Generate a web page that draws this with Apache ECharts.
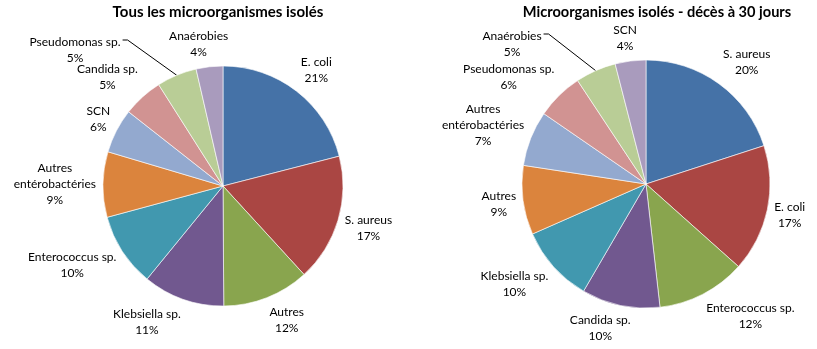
<!DOCTYPE html>
<html>
<head>
<meta charset="utf-8">
<script src="https://cdn.jsdelivr.net/npm/echarts@6/dist/echarts.min.js"></script>
<style>
html,body{margin:0;padding:0;background:#fff;}
#chart{width:817px;height:349px;}
</style>
</head>
<body>
<div id="chart"></div>
<script>
// ---- data ----
const leftTitle = 'Tous les microorganismes isolés';
const leftNames = ['E. coli', 'S. aureus', 'Autres', 'Klebsiella sp.', 'Enterococcus sp.', 'Autres entérobactéries', 'SCN', 'Candida sp.', 'Pseudomonas sp.', 'Anaérobies'];
const leftValues = [21.0, 17.2, 11.7, 11.0, 9.9, 8.8, 6.0, 5.4, 5.4, 3.6];

const rightTitle = 'Microorganismes isolés - décès à 30 jours';
const rightNames = ['S. aureus', 'E. coli', 'Enterococcus sp.', 'Candida sp.', 'Klebsiella sp.', 'Autres', 'Autres entérobactéries', 'Pseudomonas sp.', 'Anaérobies', 'SCN'];
const rightValues = [20.0, 16.6, 11.6, 10.2, 10.0, 9.0, 7.2, 6.1, 5.3, 4.0];

const palette = ['#4572A7', '#AA4643', '#89A54E', '#71588F', '#4198AF', '#DB843D', '#93A9CF', '#D19392', '#B9CD96', '#A99BBD'];

// ---- layout / style ----
const FONT = 'Lato';
const LEFT = {cx: 223, cy: 186, r: 120, leader: {8: [-148, -136]}};
const RIGHT = {cx: 646, cy: 184, r: 124, leader: {8: [-134, -140]}};
const GAP = 7;

function clamp(v) { return Math.max(-1, Math.min(1, v)); }

function makeLayout(cfg, values) {
  const total = values.reduce((a, b) => a + b, 0);
  const mids = [];
  let acc = 0;
  values.forEach(v => { mids.push((acc + v / 2) / total * 2 * Math.PI); acc += v; });
  return function (p) {
    const a = mids[p.dataIndex];
    const dx = Math.sin(a), dy = -Math.cos(a);
    const hw = p.labelRect.width / 2, hh = p.labelRect.height / 2;
    const ov = cfg.leader[p.dataIndex];
    if (ov) {
      const x = cfg.cx + ov[0], y = cfg.cy + ov[1];
      const ly = y - hh / 2 - 2;
      const lx = x + hw + 2;
      return {
        x: x, y: y, align: 'center', verticalAlign: 'middle',
        labelLinePoints: [[cfg.cx + dx * cfg.r, cfg.cy + dy * cfg.r], [lx + 5, ly], [lx, ly]]
      };
    }
    const ar = cfg.r + GAP;
    const gx = clamp(3 * dx), gy = clamp(1.2 * dy);
    return {
      x: cfg.cx + dx * ar + gx * hw,
      y: cfg.cy + dy * ar + gy * hh,
      align: 'center', verticalAlign: 'middle'
    };
  };
}

function buildData(names, values, cfg) {
  return names.map((n, i) => {
    const d = {name: n, value: values[i], itemStyle: {color: palette[i]}};
    if (cfg.leader[i]) d.labelLine = {show: true};
    return d;
  });
}

function makeSeries(names, values, cfg) {
  return {
    type: 'pie',
    center: [cfg.cx, cfg.cy],
    radius: [0, cfg.r],
    startAngle: 90,
    clockwise: true,
    avoidLabelOverlap: false,
    animation: false,
    itemStyle: {borderColor: '#ffffff', borderWidth: 0.6},
    label: {
      show: true,
      position: 'outside',
      fontFamily: FONT,
      fontSize: 12,
      lineHeight: 16,
      color: '#000',
      formatter: p => p.name.replace('Autres entéro', 'Autres\nentéro') + '\n' + Math.round(p.percent) + '%'
    },
    labelLine: {show: false, length: 8, length2: 6, lineStyle: {color: '#000', width: 1}},
    labelLayout: makeLayout(cfg, values),
    emphasis: {disabled: true},
    data: buildData(names, values, cfg)
  };
}

const chart = echarts.init(document.getElementById('chart'), null, {renderer: 'canvas'});
chart.setOption({
  backgroundColor: '#ffffff',
  animation: false,
  title: [
    {text: leftTitle, left: 218, top: 5, textAlign: 'center', padding: 0,
     textStyle: {fontFamily: FONT, fontSize: 15, fontWeight: 'bold', color: '#000'}},
    {text: rightTitle, left: 657, top: 5, textAlign: 'center', padding: 0,
     textStyle: {fontFamily: FONT, fontSize: 14.6, fontWeight: 'bold', color: '#000'}}
  ],
  series: [
    makeSeries(leftNames, leftValues, LEFT),
    makeSeries(rightNames, rightValues, RIGHT)
  ]
});
</script>
</body>
</html>
